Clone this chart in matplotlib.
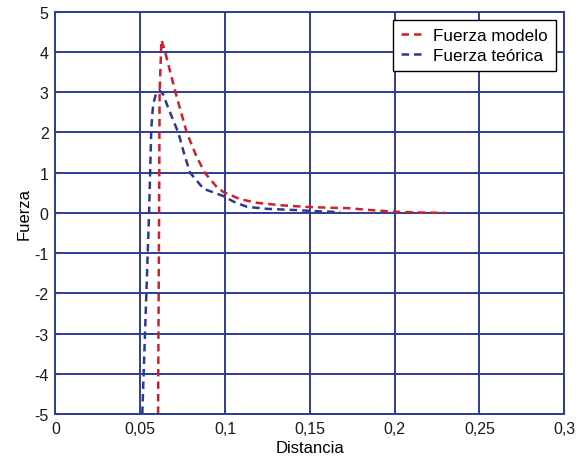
import matplotlib.pyplot as plt
from matplotlib.ticker import FuncFormatter

plt.rcParams['font.family'] = ['Liberation Sans', 'DejaVu Sans']
plt.rcParams['axes.unicode_minus'] = False

# fuerza modelo (rojo)
x_modelo = [0.0605, 0.0611, 0.0614, 0.0625, 0.0647, 0.0680, 0.0714, 0.0774, 0.0830,
            0.0880, 0.0950, 0.0990, 0.1090, 0.1190, 0.1330, 0.1480, 0.1600, 0.1720,
            0.1860, 0.2000, 0.2150, 0.2300]
y_modelo = [-5.0, 0.0, 3.0, 4.3, 4.0, 3.45, 2.9, 2.0, 1.42,
            1.0, 0.65, 0.52, 0.34, 0.25, 0.19, 0.15, 0.13, 0.12,
            0.07, 0.03, 0.01, 0.0]

# fuerza teorica (azul)
x_teorica = [0.0512, 0.0552, 0.0565, 0.0576, 0.0590, 0.0602, 0.0613, 0.0635, 0.0655,
             0.0690, 0.0724, 0.0760, 0.0794, 0.0873, 0.0990, 0.1050, 0.1130, 0.1250,
             0.1420, 0.1550, 0.1680]
y_teorica = [-5.0, 0.0, 2.1, 2.7, 2.92, 3.02, 3.05, 2.95, 2.72,
             2.35, 2.0, 1.45, 1.0, 0.6, 0.42, 0.28, 0.15, 0.10,
             0.07, 0.04, 0.02]

azul_grid = '#2e3d94'
rojo = '#d0202a'
azul = '#2b3a91'

fig = plt.figure(figsize=(5.78, 4.6), dpi=100)
ax = fig.add_axes([0.096, 0.098, 0.880, 0.874])

ax.plot(x_modelo, y_modelo, color=rojo, lw=1.8, ls=(0, (3, 2)), label='Fuerza modelo')
ax.plot(x_teorica, y_teorica, color=azul, lw=1.8, ls=(0, (3, 2)), label='Fuerza teórica')

ax.set_xlim(0, 0.3)
ax.set_ylim(-5, 5)
ax.set_xticks([0, 0.05, 0.1, 0.15, 0.2, 0.25, 0.3])
ax.set_yticks(range(-5, 6))
ax.xaxis.set_major_formatter(FuncFormatter(lambda v, p: ('%g' % round(v, 3)).replace('.', ',')))

ax.grid(True, color=azul_grid, lw=1.4)
ax.set_axisbelow(True)
for s in ax.spines.values():
    s.set_color(azul_grid)
    s.set_linewidth(1.4)
ax.tick_params(direction='in', colors=azul_grid, labelcolor='#1a1a1a', labelsize=11.5,
               length=3, pad=5)

ax.set_xlabel('Distancia', fontsize=12, labelpad=3)
ax.set_ylabel('Fuerza', fontsize=12, labelpad=2)

leg = ax.legend(loc='upper right', fontsize=12.3, handlelength=1.5, handletextpad=0.4,
                borderpad=0.45, labelspacing=0.3, fancybox=False, framealpha=1,
                borderaxespad=0.5)
leg.get_frame().set_edgecolor('black')
leg.get_frame().set_linewidth(1.0)

fig.savefig('out.png', dpi=100)
